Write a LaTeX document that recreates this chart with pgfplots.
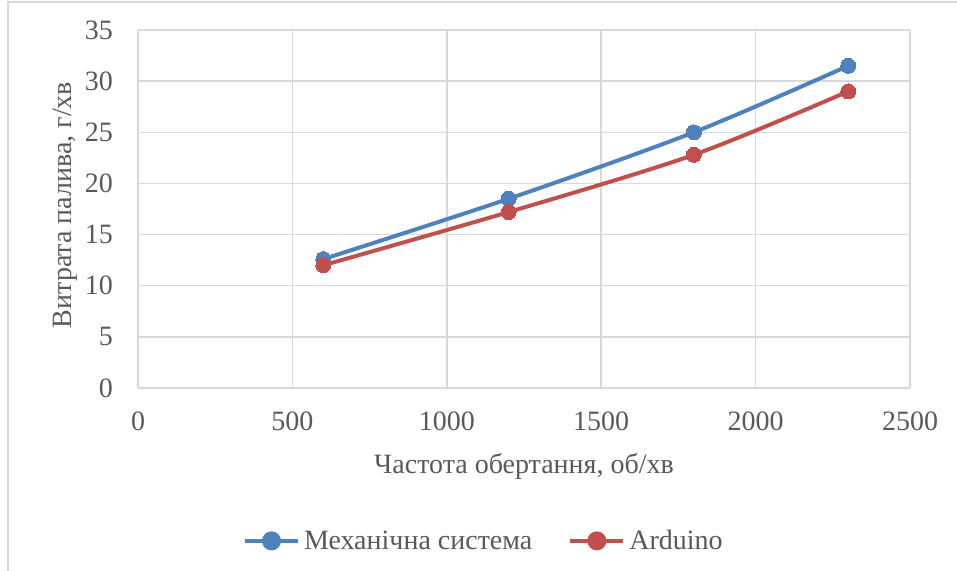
\documentclass[border=0pt]{standalone}
\usepackage{fontspec}
\setmainfont{Liberation Serif}
\usepackage{pgfplots}
\pgfplotsset{compat=1.18}
\definecolor{cblue}{HTML}{4F81BD}
\definecolor{cred}{HTML}{C0504D}
\definecolor{ctext}{HTML}{595959}
\definecolor{cgrid}{HTML}{D9D9D9}
\newcommand{\bigf}{\fontsize{28}{32}\selectfont}
\begin{document}
\begin{tikzpicture}
\begin{axis}[
  at={(138pt,182pt)}, anchor=south west,
  scale only axis, width=772pt, height=358pt,
  xmin=0, xmax=2500, ymin=0, ymax=35,
  xtick={0,500,...,2500}, ytick={0,5,...,35},
  grid=major,
  grid style={cgrid, line width=1.5pt},
  axis line style={draw=none},
  tick style={draw=none},
  ticklabel style={font=\bigf, text=ctext, inner sep=0pt},
  /pgf/number format/assume math mode=true,
  /pgf/number format/1000 sep={},
  xticklabel style={anchor=center, yshift=-33pt},
  yticklabel style={anchor=east, xshift=-25pt},
  xlabel={Частота обертання, об/хв},
  ylabel={Витрата палива, г/хв},
  label style={font=\bigf, text=ctext},
  xlabel style={at={(axis description cs:0.5,-0.218)}, anchor=center},
  ylabel style={at={(axis description cs:-0.0946,0.511)}, anchor=center, rotate=0},
  legend style={at={(0.448,-0.427)}, anchor=center, draw=none, legend columns=2,
    font=\bigf, text=ctext, inner sep=0pt,
    /tikz/every odd column/.append style={column sep=2pt},
    /tikz/every even column/.append style={column sep=34pt}},
  legend image code/.code={
    \draw[#1, mark=none, line width=4pt] (0pt,0pt) -- (53pt,0pt);
    \fill[#1] (26.5pt,0pt) circle (7.5pt);
  },
]
\addplot[cblue, line width=4pt, smooth, mark=*, mark size=7.5pt, mark options={solid, fill=cblue, draw=cblue, line width=0pt}]
  coordinates {(600,12.6) (1200,18.5) (1800,25.0) (2300,31.5)};
\addlegendentry{Механічна система}
\addplot[cred, line width=4pt, smooth, mark=*, mark size=7.5pt, mark options={solid, fill=cred, draw=cred, line width=0pt}]
  coordinates {(600,12.0) (1200,17.2) (1800,22.8) (2300,29.0)};
\addlegendentry{Arduino}
\end{axis}
\draw[cgrid, line width=1.5pt] (8pt,-10pt) rectangle (990pt,568pt);
\pgfresetboundingbox
\useasboundingbox (0pt,0pt) rectangle (957pt,570pt);
\end{tikzpicture}
\end{document}
